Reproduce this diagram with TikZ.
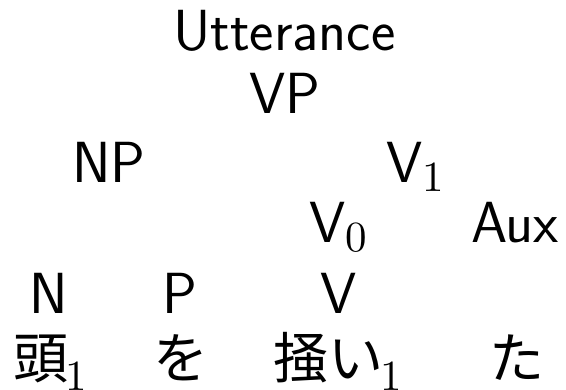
\documentclass[tikz,border=0pt]{standalone}
\usepackage{fontspec}
\newfontfamily\cjk{Noto Sans CJK JP}
\newfontfamily\digitfont{lmroman10-regular.otf}
% lowered index digits after category labels and after words
\newcommand\labsub[1]{\raisebox{-9pt}[0pt][0pt]{\digitfont\fontsize{43}{43}\selectfont #1}}
\newcommand\wordsub[1]{\kern-3pt\raisebox{-12pt}[0pt][0pt]{\digitfont\fontsize{43}{43}\selectfont #1}}
\tikzset{
  lab/.style={anchor=base west, inner sep=0pt, outer sep=0pt,
              font=\sffamily\fontsize{58}{64}\selectfont},
  word/.style={lab, font=\cjk\fontsize{55}{64}\selectfont}
}
\begin{document}
\begin{tikzpicture}[x=1pt,y=-1pt]
\useasboundingbox (0,0) rectangle (566,389);
% category labels, one row per tree level
\node[lab] (utt) at (173,50)  {Utterance};
\node[lab] (vp)  at (249,113) {VP};
\node[lab] (np)  at (72,182)  {NP};
\node[lab] (v1)  at (386,182) {V\labsub{1}};
\node[lab] (v0)  at (309,242) {V\labsub{0}};
\node[lab] (aux) at (471,242) {Aux};
\node[lab] (n)   at (30,313)  {N};
\node[lab] (p)   at (162,313) {P};
\node[lab] (v)   at (320,313) {V};
% the words
\node[word] (w1) at (13,378)  {頭\wordsub{1}};
\node[word] (w2) at (153,378) {を};
\node[word] (w3) at (273,378) {掻い\wordsub{1}};
\node[word] (w4) at (489,378) {た};
\end{tikzpicture}
\end{document}
